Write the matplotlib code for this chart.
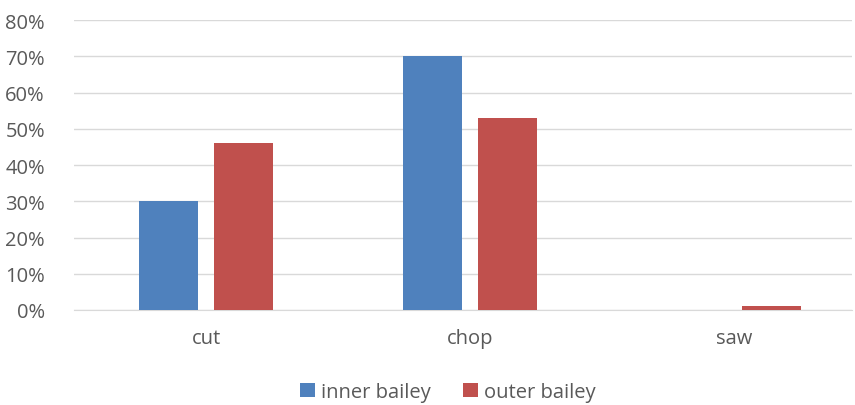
import matplotlib
matplotlib.use("Agg")
import matplotlib.pyplot as plt
import numpy as np
from matplotlib.ticker import FuncFormatter

categories = ["cut", "chop", "saw"]
inner_bailey = [0.30, 0.70, 0.0]
outer_bailey = [0.46, 0.53, 0.01]
series_names = ["inner bailey", "outer bailey"]
colors = ["#4F81BD", "#C0504D"]

plt.rcParams["font.family"] = ["Open Sans", "DejaVu Sans"]

fig = plt.figure(figsize=(8.55, 4.06), dpi=100)
ax = fig.add_axes([0.0866, 0.234, 0.9099, 0.714])

x = np.arange(len(categories))
w = 0.225
off = 0.143
ax.bar(x - off, inner_bailey, w, color=colors[0], label=series_names[0], zorder=3)
ax.bar(x + off, outer_bailey, w, color=colors[1], label=series_names[1], zorder=3)

ax.set_ylim(0, 0.8)
ax.set_xlim(-0.5, 2.447)
ax.set_yticks(np.arange(0, 0.81, 0.1))
ax.yaxis.set_major_formatter(FuncFormatter(lambda v, p: f"{v*100:.0f}%"))
ax.set_xticks(x)
ax.set_xticklabels(categories)
ax.grid(axis="y", color="#D9D9D9", linewidth=1, zorder=0)
for s in ["top", "right", "left"]:
    ax.spines[s].set_visible(False)
ax.spines["bottom"].set_color("#D9D9D9")
ax.tick_params(axis="both", length=0, colors="#595959", labelsize=14.5)
ax.tick_params(axis="y", pad=21)
ax.tick_params(axis="x", pad=13)

leg = fig.legend(loc="center", bbox_to_anchor=(0.524, 0.032), ncol=2, frameon=False,
                 fontsize=14.5, handlelength=0.75, handleheight=0.75, handletextpad=0.3,
                 columnspacing=1.6, labelcolor="#595959")

fig.savefig("out.png", dpi=100)
